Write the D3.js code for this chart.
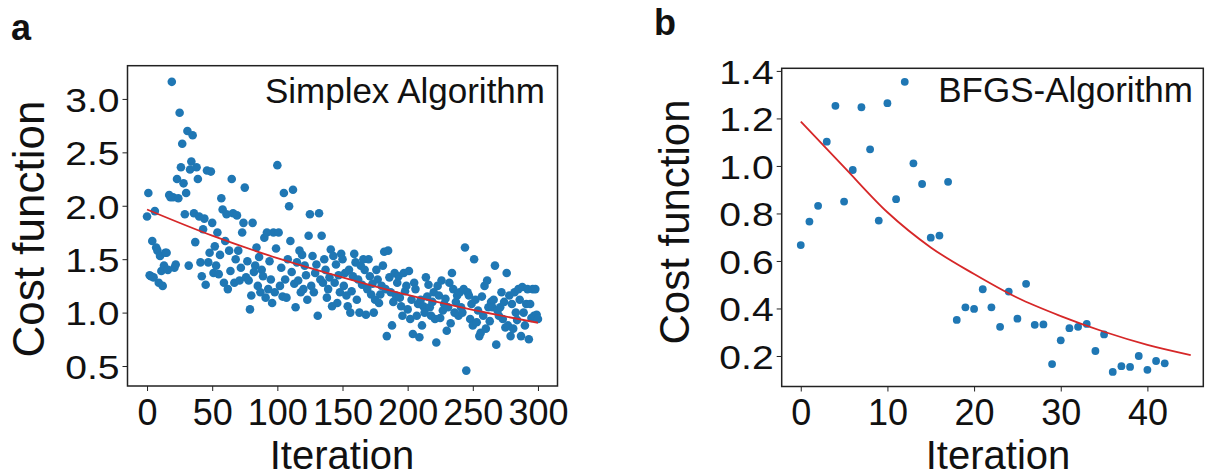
<!DOCTYPE html>
<html>
<head>
<meta charset="utf-8">
<script src="https://cdn.jsdelivr.net/npm/d3@7/dist/d3.min.js"></script>
<style>
  html, body { margin: 0; padding: 0; background: #fff; }
  svg { display: block; }
  text { font-family: "Liberation Sans", Arial, Helvetica, sans-serif; fill: #111; }
</style>
</head>
<body>
<svg id="fig" width="1208" height="473"></svg>
<script>
// Panel a: cost function value at every iteration of the Simplex run (iterations 0..300)
const simplexCost = [
  1.90, 2.12, 1.35, 1.34, 1.67, 1.33, 1.95, 1.61, 1.58, 1.28,
  1.53, 1.39, 1.25, 1.44, 1.56, 1.56, 1.40, 2.10, 2.08, 3.16,
  2.08, 1.42, 1.45, 2.25, 2.07, 2.87, 2.36, 2.58, 2.21, 1.92,
  2.12, 2.70, 1.44, 2.34, 2.415, 2.66, 1.93, 1.66, 2.36, 2.25,
  1.90, 1.47, 1.34, 1.78, 1.88, 1.26, 2.33, 1.47, 1.56, 2.32,
  1.84, 1.37, 1.62, 1.44, 1.75, 1.36, 1.54, 2.07, 1.965, 1.28,
  1.67, 1.92, 1.22, 1.58, 1.39, 2.25, 1.93, 1.28, 1.50, 1.91,
  1.58, 1.30, 1.42, 1.75, 1.84, 2.17, 1.33, 1.48, 1.30, 1.03,
  1.16, 1.84, 1.38, 1.44, 1.61, 1.25, 1.52, 1.19, 1.40, 1.34,
  1.70, 1.14, 1.75, 1.22, 1.48, 1.31, 1.09, 1.75, 1.19, 1.60,
  2.38, 1.75, 1.25, 1.42, 1.15, 2.12, 1.31, 1.14, 1.50, 1.995,
  1.67, 1.38, 2.15, 1.27, 1.05, 1.47, 1.30, 1.58, 1.19, 1.54,
  1.22, 1.44, 1.35, 1.12, 1.72, 1.92, 1.25, 1.53, 1.19, 1.37,
  1.45, 0.97, 1.93, 1.31, 1.72, 1.28, 1.50, 1.40, 1.14, 1.22,
  1.33, 1.59, 1.06, 1.53, 1.28, 1.45, 1.09, 1.35, 1.19, 1.55,
  1.50, 1.25, 1.37, 1.16, 1.06, 1.40, 1.00, 1.20, 1.34, 1.55,
  1.47, 1.12, 1.31, 1.00, 1.44, 1.26, 1.50, 1.40, 0.98, 1.22,
  1.50, 1.34, 1.17, 1.27, 1.00, 1.12, 1.40, 1.31, 1.09, 1.17,
  1.25, 1.44, 1.57, 1.22, 0.78, 1.58, 1.33, 1.19, 0.88, 1.10,
  1.37, 1.16, 1.28, 1.34, 1.14, 1.06, 0.97, 1.37, 1.20, 1.25,
  1.03, 1.39, 0.94, 1.12, 0.80, 1.28, 1.22, 0.97, 1.08, 0.77,
  1.12, 0.88, 1.06, 1.00, 1.33, 1.15, 1.26, 1.05, 0.97, 1.10,
  1.19, 0.94, 0.72, 1.25, 1.16, 0.95, 1.30, 1.02, 1.08, 1.13,
  0.83, 1.05, 1.28, 0.90, 1.37, 1.22, 1.00, 1.10, 1.16, 0.97,
  1.19, 1.05, 1.00, 1.22, 1.61, 0.457, 1.19, 1.16, 0.94, 1.08,
  0.88, 1.50, 1.12, 0.91, 1.02, 0.78, 0.81, 1.15, 0.97, 1.25,
  0.85, 1.30, 1.05, 0.92, 1.10, 1.05, 1.12, 1.44, 0.70, 1.02,
  0.97, 1.05, 1.19, 0.94, 1.10, 0.86, 1.37, 0.88, 1.16, 0.78,
  1.08, 0.85, 1.19, 1.00, 0.93, 1.22, 1.12, 0.78, 1.24, 1.00,
  0.88, 1.08, 1.22, 0.75, 1.08, 0.95, 1.22, 0.97, 1.22, 0.98,
  0.94
];

// Panel a: fitted trend line, sampled at these iterations
const simplexFitIter = [0, 50, 100, 150, 200, 250, 300];
const simplexFitCost = [1.965, 1.72, 1.51, 1.33, 1.165, 1.025, 0.905];

// Panel b: cost function value at every iteration of the BFGS run (iterations 0..42)
const bfgsCost = [
  0.667, 0.766, 0.832, 1.102, 1.253, 0.850, 0.983, 1.247, 1.070, 0.770,
  1.264, 0.860, 1.354, 1.011, 0.924, 0.698, 0.707, 0.933, 0.352, 0.405,
  0.398, 0.481, 0.405, 0.323, 0.471, 0.357, 0.504, 0.331, 0.333, 0.166,
  0.266, 0.317, 0.323, 0.335, 0.221, 0.291, 0.133, 0.157, 0.154, 0.200,
  0.142, 0.179, 0.169
];

// Panel b: fitted trend line, sampled at these iterations
const bfgsFitIter = [0, 5, 10, 15, 20, 25, 30, 35, 40, 45];
const bfgsFitCost = [1.187, 0.995, 0.805, 0.657, 0.545, 0.445, 0.368, 0.302, 0.247, 0.204];

// Tick values and labels
const simplexXTicks = [0, 50, 100, 150, 200, 250, 300];
const simplexYTicks = [0.5, 1.0, 1.5, 2.0, 2.5, 3.0];
const bfgsXTicks = [0, 10, 20, 30, 40];
const bfgsYTicks = [0.2, 0.4, 0.6, 0.8, 1.0, 1.2, 1.4];

const panelLetters = ["a", "b"];
const panelTitles = ["Simplex Algorithm", "BFGS-Algorithm"];
const xLabel = "Iteration";
const yLabel = "Cost function";

const dotColor = "#1f77b4";
const lineColor = "#d62728";

const svg = d3.select("#fig");
svg.append("rect").attr("width", 1208).attr("height", 473).attr("fill", "#fff");

function drawPanel(opt) {
  const g = svg.append("g");
  const x = d3.scaleLinear().domain(opt.xDomain).range([opt.left, opt.right]);
  const y = d3.scaleLinear().domain(opt.yDomain).range([opt.bottom, opt.top]);

  // scatter points
  g.append("g").selectAll("circle")
    .data(opt.values)
    .join("circle")
    .attr("cx", (d, i) => x(i))
    .attr("cy", d => y(d))
    .attr("r", opt.r)
    .attr("fill", dotColor);

  // trend line
  const line = d3.line()
    .x((d, i) => x(opt.fitX[i]))
    .y(d => y(d))
    .curve(d3.curveMonotoneX);
  g.append("path")
    .attr("d", line(opt.fitY))
    .attr("fill", "none")
    .attr("stroke", lineColor)
    .attr("stroke-width", 1.8);

  // axes
  const xAxis = g.append("g")
    .attr("transform", `translate(0,${opt.bottom})`)
    .call(d3.axisBottom(x).tickValues(opt.xTicks).tickFormat(d3.format("d")).tickSize(5).tickPadding(8));
  xAxis.select(".domain").remove();
  xAxis.selectAll("line").attr("stroke", "#222");
  xAxis.selectAll("text").attr("font-size", 36).attr("fill", "#111")
    .style("font-family", '"Liberation Sans", Arial, sans-serif');

  const yAxis = g.append("g")
    .attr("transform", `translate(${opt.left},0)`)
    .call(d3.axisLeft(y).tickValues(opt.yTicks).tickFormat(d3.format(".1f")).tickSize(5).tickPadding(3));
  yAxis.select(".domain").remove();
  yAxis.selectAll("line").attr("stroke", "#222");
  yAxis.selectAll("text").attr("font-size", 34).attr("fill", "#111")
    .style("font-family", '"Liberation Sans", Arial, sans-serif')
    .attr("dy", "0.36em")
    .attr("transform", function () {
      const tx = +d3.select(this).attr("x");
      return `translate(${tx},0) scale(1.15,1) translate(${-tx},0)`;
    });

  // frame
  g.append("rect")
    .attr("x", opt.left).attr("y", opt.top)
    .attr("width", opt.right - opt.left).attr("height", opt.bottom - opt.top)
    .attr("fill", "none").attr("stroke", "#222").attr("stroke-width", 1.5);

  // in-plot title
  g.append("text")
    .attr("x", opt.titleX).attr("y", opt.titleY)
    .attr("text-anchor", "end")
    .attr("font-size", 35)
    .text(opt.title);

  // axis titles
  g.append("text")
    .attr("x", opt.xLabelX).attr("y", 469)
    .attr("text-anchor", "middle")
    .attr("font-size", 40)
    .text(xLabel);
  g.append("text")
    .attr("transform", `translate(${opt.yLabelX},${opt.yLabelY}) rotate(-90)`)
    .attr("text-anchor", "middle")
    .attr("font-size", opt.yLabelSize)
    .text(yLabel);

  // panel letter
  g.append("text")
    .attr("x", opt.letterX).attr("y", opt.letterY)
    .attr("font-size", 36)
    .attr("font-weight", "bold")
    .text(opt.letter);
}

drawPanel({
  values: simplexCost, fitX: simplexFitIter, fitY: simplexFitCost,
  xDomain: [-15, 315], yDomain: [0.313, 3.311],
  left: 127.5, right: 557.5, top: 65.7, bottom: 386,
  xTicks: simplexXTicks, yTicks: simplexYTicks, r: 4.3,
  title: panelTitles[0], titleX: 545, titleY: 102.5,
  xLabelX: 342, yLabelX: 44, yLabelY: 229, yLabelSize: 44,
  letter: panelLetters[0], letterX: 11, letterY: 40
});

drawPanel({
  values: bfgsCost, fitX: bfgsFitIter, fitY: bfgsFitCost,
  xDomain: [-2.2, 46.45], yDomain: [0.0716, 1.411],
  left: 781.7, right: 1203.3, top: 68.3, bottom: 386.5,
  xTicks: bfgsXTicks, yTicks: bfgsYTicks, r: 3.9,
  title: panelTitles[1], titleX: 1193, titleY: 101.5,
  xLabelX: 998, yLabelX: 689, yLabelY: 222, yLabelSize: 42,
  letter: panelLetters[1], letterX: 654, letterY: 35
});
</script>
</body>
</html>
